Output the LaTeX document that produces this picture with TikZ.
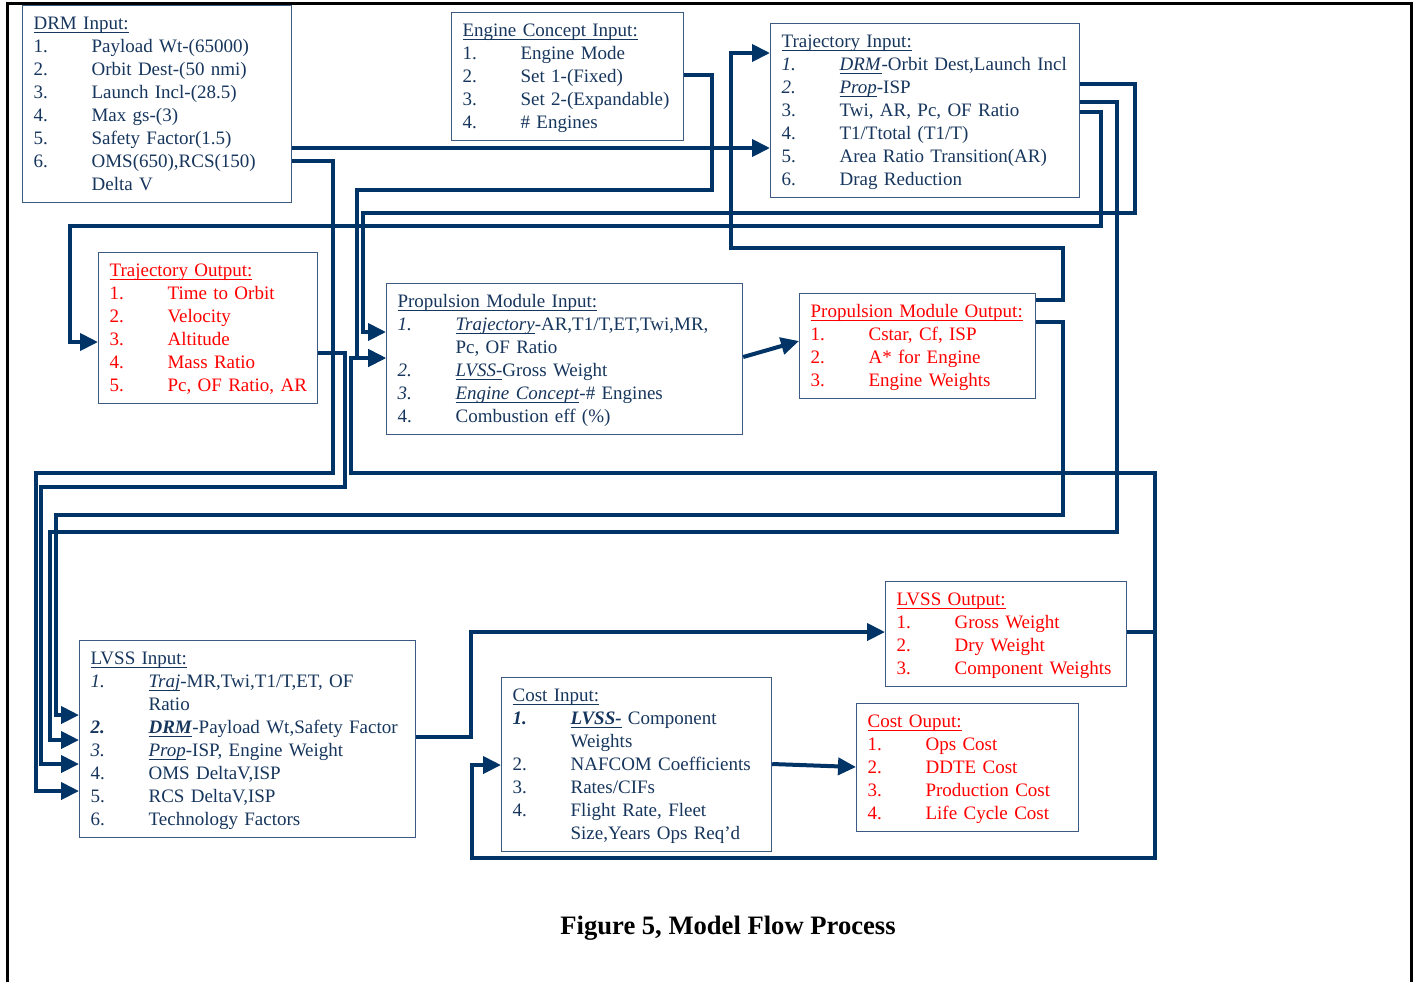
\documentclass[tikz,border=0pt]{standalone}
\usepackage{fontspec}
\setmainfont{Liberation Serif}
\usepackage{tikz}
\usetikzlibrary{arrows.meta,positioning}
\definecolor{ink}{RGB}{23,54,93}
\definecolor{wire}{RGB}{0,51,102}
\definecolor{edge}{RGB}{60,90,130}
\newcommand{\lstrut}{\rule[-2.6pt]{0pt}{11.5pt}}
\newcommand{\uln}[1]{\leavevmode\setbox0\hbox{#1}\rlap{\rule[-1.7pt]{\wd0}{0.6pt}}\box0\relax}
\newcommand{\itm}[2]{\lstrut\makebox[29pt][l]{#1}\mbox{#2}}
\newcommand{\ttl}[1]{\lstrut\uln{#1}}

\begin{document}
\begin{tikzpicture}[x=0.5pt,y=-0.5pt,
  block/.style={rectangle,draw=edge,line width=0.6pt,fill=white,text=ink,align=left,anchor=north west,inner xsep=5.5pt,inner ysep=3.25pt,font=\fontsize{9.5}{11.5}\selectfont},
  outblock/.style={block,text=red},
  arrow/.style={-{Triangle[length=9pt,width=8.5pt]},draw=wire,line width=2pt}
]
\useasboundingbox (0,0) rectangle (1422,982);
\draw[line width=1.5pt] (7,982) -- (7,3) -- (1411,3) -- (1411,982);

% input and output boxes
\node[block,text width=123.5pt] (drm) at (22,5) {\ttl{DRM Input:}\\
  \itm{1.}{Payload Wt-(65000)}\\ \itm{2.}{Orbit Dest-(50 nmi)}\\
  \itm{3.}{Launch Incl-(28.5)}\\ \itm{4.}{Max gs-(3)}\\
  \itm{5.}{Safety Factor(1.5)}\\ \itm{6.}{OMS(650),RCS(150)}\\ \itm{}{Delta V}};
\node[block,text width=105pt] (engine) at (451,12) {\ttl{Engine Concept Input:}\\
  \itm{1.}{Engine Mode}\\ \itm{2.}{Set 1-(Fixed)}\\
  \itm{3.}{Set 2-(Expandable)}\\ \itm{4.}{\# Engines}};
\node[block,text width=143.5pt] (trajin) at (770,23) {\ttl{Trajectory Input:}\\
  \itm{\textit{1.}}{\uln{\textit{DRM}}-Orbit Dest,Launch Incl}\\
  \itm{\textit{2.}}{\uln{\textit{Prop}}-ISP}\\
  \itm{3.}{Twi, AR, Pc, OF Ratio}\\ \itm{4.}{T1/Ttotal (T1/T)}\\
  \itm{5.}{Area Ratio Transition(AR)}\\ \itm{6.}{Drag Reduction}};
\node[outblock,text width=98.5pt] (trajout) at (98,252) {\ttl{Trajectory Output:}\\
  \itm{1.}{Time to Orbit}\\ \itm{2.}{Velocity}\\ \itm{3.}{Altitude}\\
  \itm{4.}{Mass Ratio}\\ \itm{5.}{Pc, OF Ratio, AR}};
\node[block,text width=167pt] (propin) at (386,283) {\ttl{Propulsion Module Input:}\\
  \itm{\textit{1.}}{\uln{\textit{Trajectory}}-AR,T1/T,ET,Twi,MR,}\\ \itm{}{Pc, OF Ratio}\\
  \itm{\textit{2.}}{\uln{\textit{LVSS-}}Gross Weight}\\
  \itm{\textit{3.}}{\uln{\textit{Engine Concept}}-\# Engines}\\
  \itm{4.}{Combustion eff (\%)}};
\node[outblock,text width=107pt] (propout) at (799,293) {\ttl{Propulsion Module Output:}\\
  \itm{1.}{Cstar, Cf, ISP}\\ \itm{2.}{A* for Engine}\\ \itm{3.}{Engine Weights}};
\node[block,text width=157pt] (lvssin) at (79,640) {\ttl{LVSS Input:}\\
  \itm{\textit{1.}}{\uln{\textit{Traj}}-MR,Twi,T1/T,ET, OF}\\ \itm{}{Ratio}\\
  \itm{\textbf{\textit{2.}}}{\uln{\textbf{\textit{DRM}}}-Payload Wt,Safety Factor}\\
  \itm{\textit{3.}}{\uln{\textit{Prop}}-ISP, Engine Weight}\\
  \itm{4.}{OMS DeltaV,ISP}\\ \itm{5.}{RCS DeltaV,ISP}\\ \itm{6.}{Technology Factors}};
\node[outblock,text width=109.5pt] (lvssout) at (885,581) {\ttl{LVSS Output:}\\
  \itm{1.}{Gross Weight}\\ \itm{2.}{Dry Weight}\\ \itm{3.}{Component Weights}};
\node[block,text width=124pt] (costin) at (501,677) {\ttl{Cost Input:}\\
  \itm{\textbf{\textit{1.}}}{\uln{\textbf{\textit{LVSS-}}} Component}\\ \itm{}{Weights}\\
  \itm{2.}{NAFCOM Coefficients}\\ \itm{3.}{Rates/CIFs}\\
  \itm{4.}{Flight Rate, Fleet}\\ \itm{}{Size,Years Ops Req’d}};
\node[outblock,text width=100pt] (costout) at (856,703) {\ttl{Cost Ouput:}\\
  \itm{1.}{Ops Cost}\\ \itm{2.}{DDTE Cost}\\ \itm{3.}{Production Cost}\\ \itm{4.}{Life Cycle Cost}};

\node[font=\bfseries\fontsize{13.3}{15}\selectfont] (caption) at (728,928) {Figure 5, Model Flow Process};

% flow lines
\draw[arrow] (drm.east |- 0,148) -- (trajin.west |- 0,148);
\draw[arrow] (drm.east |- 0,161) -| (333,473) -| (36,791) -- (lvssin.west |- 0,791);
\draw[arrow] (engine.east |- 0,75) -| (712,190) -| (357,358) -- (propin.west |- 0,358);
\draw[arrow] (trajin.east |- 0,84) -| (1135,213) -| (363,332) -- (propin.west |- 0,332);
\draw[arrow] (trajin.east |- 0,102) -| (1117,532) -| (50,740) -- (lvssin.west |- 0,740);
\draw[arrow] (trajin.east |- 0,112) -| (1101,226) -| (70,342) -- (trajout.west |- 0,342);
\draw[arrow] (trajout.east |- 0,353) -| (345,487) -| (41,764) -- (lvssin.west |- 0,764);
\draw[arrow] (propin.east |- 0,357) -- (propout.west |- 0,341);
\draw[arrow] (propout.east |- 0,300) -| (1063,248) -| (731,53) -- (trajin.west |- 0,53);
\draw[arrow] (propout.east |- 0,322) -| (1063,515) -| (56,715) -- (lvssin.west |- 0,715);
\draw[arrow] (lvssin.east |- 0,737) -| (471,632) -- (lvssout.west |- 0,632);
\draw[arrow] (lvssout.east |- 0,632) -| (1155,473) -| (351,358) -- (propin.west |- 0,358);
\draw[arrow] (lvssout.east |- 0,632) -| (1155,858) -| (472,765) -- (costin.west |- 0,765);
\draw[arrow] (costin.east |- 0,764) -- (costout.west |- 0,767);
\end{tikzpicture}
\end{document}
